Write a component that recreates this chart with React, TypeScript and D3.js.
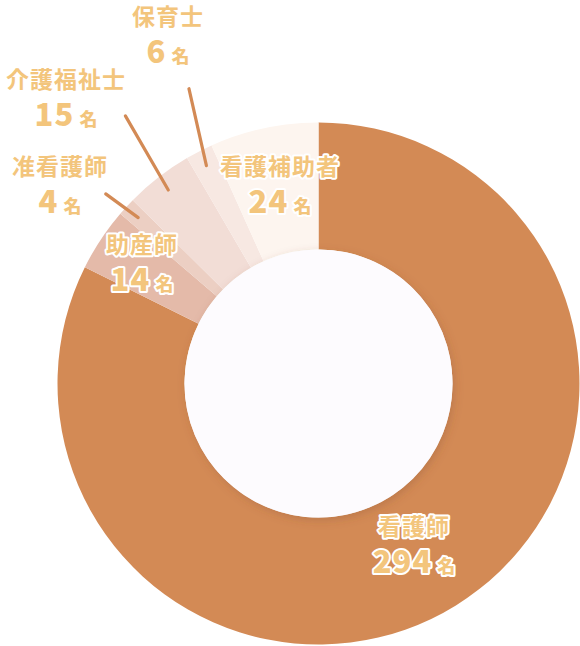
import React from 'react'
import * as d3 from 'd3'

// staff categories and head counts
const categories = ['看護師', '助産師', '准看護師', '介護福祉士', '保育士', '看護補助者']
const counts = [294, 14, 4, 15, 6, 24]
const colours = ['#d38a55', '#e4baa9', '#eccfc3', '#f2ddd6', '#f7e8e2', '#fdf5ef']

const width = 580
const height = 646
const cx = 318.5
const cy = 383.5
const outerR = 261
const innerR = 134

// label placement for each slice (layout only)
const labelPos: Record<string, { x: number, y: number, line?: [number, number] }> = {
  '看護師': { x: 414, y: 535 },
  '助産師': { x: 142, y: 253 },
  '准看護師': { x: 60, y: 175, line: [-0.9, 285] },
  '介護福祉士': { x: 66, y: 88, line: [2, 330] },
  '保育士': { x: 168, y: 25, line: [3.5, 322] },
  '看護補助者': { x: 280, y: 175 },
}

const textFill = '#f3c57c'

export default function App() {
  const pie = d3.pie<number>().sort(null).value(d => d)
  const arcs = pie(counts)
  const arc = d3.arc<d3.PieArcDatum<number>>().innerRadius(innerR).outerRadius(outerR)

  const polar = (angleDeg: number, r: number): [number, number] => {
    const a = angleDeg * Math.PI / 180
    return [cx + r * Math.sin(a), cy - r * Math.cos(a)]
  }

  return (
    <svg width={width} height={height} style={{ position: 'absolute', left: 0, top: 0 }}
      fontFamily="'Noto Sans CJK JP', 'Noto Sans', sans-serif" fontWeight="bold">
      <defs>
        <filter id="holeShadow" x="-20%" y="-20%" width="140%" height="140%">
          <feDropShadow dx="2" dy="3" stdDeviation="4" floodColor="#7a4a2a" floodOpacity="0.25" />
        </filter>
      </defs>
      <g transform={`translate(${cx},${cy})`}>
        {arcs.map((a, i) => (
          <path key={categories[i]} d={arc(a) || ''} fill={colours[i]} />
        ))}
        <circle r={innerR} fill="#fdfbfe" filter="url(#holeShadow)" />
      </g>
      {arcs.map((a, i) => {
        const pos = labelPos[categories[i]]
        if (!pos.line) return null
        const mid = ((a.startAngle + a.endAngle) / 2) * 180 / Math.PI
        const [x1, y1] = polar(mid, 245)
        const [x2, y2] = polar(mid + pos.line[0], pos.line[1])
        return (
          <line key={'l' + i} x1={x1} y1={y1} x2={x2} y2={y2}
            stroke="#d38a55" strokeWidth={3.2} strokeLinecap="round" />
        )
      })}
      {arcs.map((a, i) => {
        const pos = labelPos[categories[i]]
        return (
          <g key={'t' + i} fill={textFill} stroke="#fff" strokeWidth={4}
            strokeLinejoin="round" style={{ paintOrder: 'stroke' }} textAnchor="middle">
            <text x={pos.x} y={pos.y} fontSize={23} letterSpacing={1}>{categories[i]}</text>
            <text x={pos.x} y={pos.y + 38} fontWeight={900}>
              <tspan fontSize={31} letterSpacing={1}>{counts[i]}</tspan>
              <tspan fontSize={18} dx={5}>名</tspan>
            </text>
          </g>
        )
      })}
    </svg>
  )
}
